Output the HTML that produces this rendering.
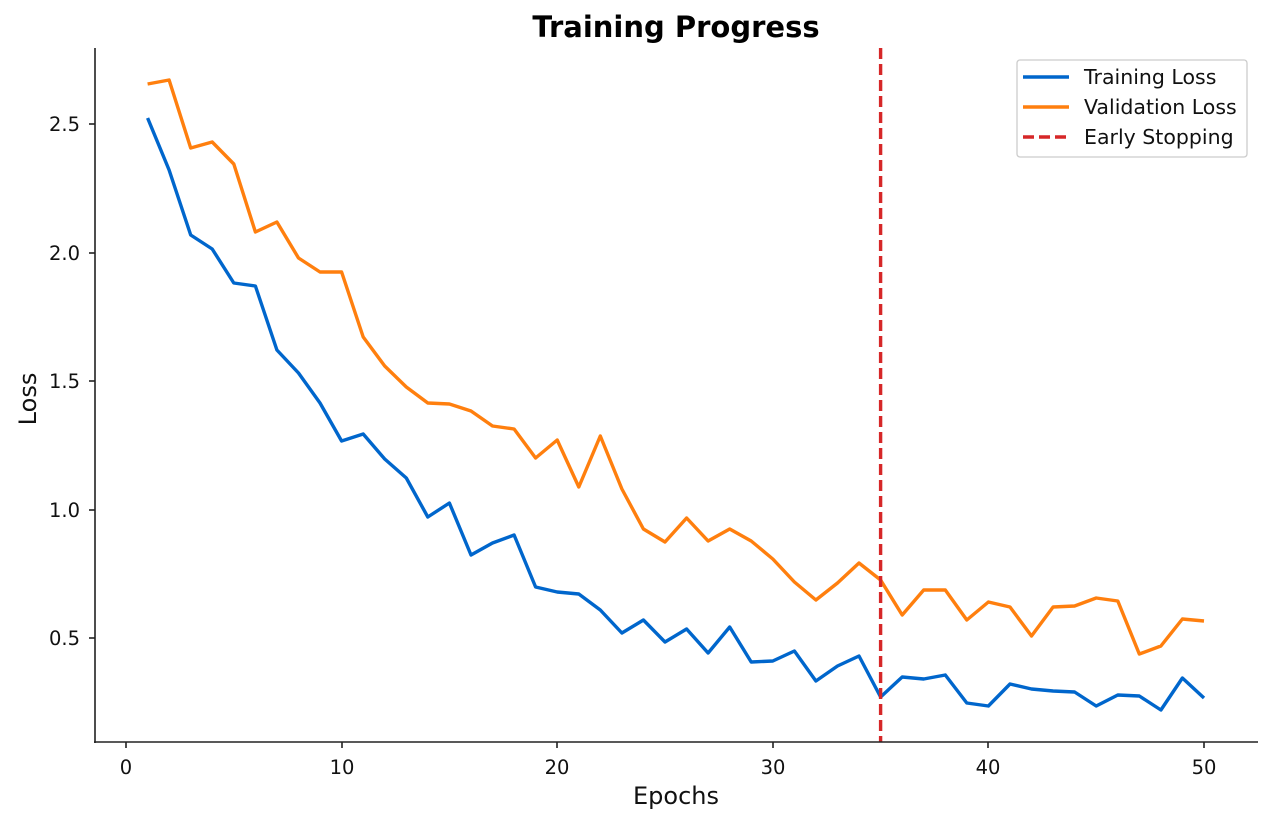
<!DOCTYPE html>
<html><head><meta charset="utf-8"><style>
html,body{margin:0;padding:0;background:#fff;}
svg{display:block;font-family:"DejaVu Sans","Liberation Sans",sans-serif;}
</style></head><body>
<svg width="1272" height="824" viewBox="0 0 1272 824" xmlns="http://www.w3.org/2000/svg">
<rect width="1272" height="824" fill="#fff"/>
<text x="676" y="37" text-anchor="middle" font-size="29" font-weight="bold" fill="#000">Training Progress</text>
<polyline fill="none" stroke="#ff7f0e" stroke-width="3.4" stroke-linejoin="round" points="147.6,84 169.1,80 190.7,148 212.2,142 233.8,164 255.4,232 276.9,222 298.5,258 320,272 341.6,272 363.2,337 384.7,366 406.3,387 427.8,403 449.4,404 471,411 492.5,426 514.1,429 535.6,458 557.2,440 578.8,487 600.3,436 621.9,489 643.4,529 665,542 686.6,518 708.1,541 729.7,529 751.2,541 772.8,559 794.4,582 815.9,600 837.5,583 859,563 880.6,580 902.2,615 923.7,590 945.3,590 966.8,620 988.4,602 1010,607 1031.5,636 1053.1,607 1074.6,606 1096.2,598 1117.8,601 1139.3,654 1160.9,646 1182.4,619 1204,621"/>
<polyline fill="none" stroke="#0066cc" stroke-width="3.4" stroke-linejoin="round" points="147.6,118 169.1,170 190.7,235 212.2,249 233.8,283 255.4,286 276.9,350 298.5,373 320,403 341.6,441 363.2,434 384.7,459 406.3,478 427.8,517 449.4,503 471,555 492.5,543 514.1,535 535.6,587 557.2,592 578.8,594 600.3,610 621.9,633 643.4,620 665,642 686.6,629 708.1,653 729.7,627 751.2,662 772.8,661 794.4,651 815.9,681 837.5,666 859,656 880.6,697 902.2,677 923.7,679 945.3,675 966.8,703 988.4,706 1010,684 1031.5,689 1053.1,691 1074.6,692 1096.2,706 1117.8,695 1139.3,696 1160.9,710 1182.4,678 1204,698"/>
<line x1="880.6" y1="48" x2="880.6" y2="742" stroke="#d62728" stroke-width="3.4" stroke-dasharray="11,5"/>
<line x1="95" y1="48" x2="95" y2="743" stroke="#222" stroke-width="1.6"/>
<line x1="94" y1="742" x2="1258" y2="742" stroke="#222" stroke-width="1.6"/>
<g stroke="#222" stroke-width="1.6">
<line x1="126" y1="742" x2="126" y2="748"/><line x1="342" y1="742" x2="342" y2="748"/><line x1="557" y1="742" x2="557" y2="748"/><line x1="773" y1="742" x2="773" y2="748"/><line x1="988" y1="742" x2="988" y2="748"/><line x1="1204" y1="742" x2="1204" y2="748"/>
<line x1="89" y1="124" x2="95" y2="124"/><line x1="89" y1="253" x2="95" y2="253"/><line x1="89" y1="381" x2="95" y2="381"/><line x1="89" y1="510" x2="95" y2="510"/><line x1="89" y1="638" x2="95" y2="638"/>
</g>
<g font-size="19.5" fill="#111" text-anchor="middle">
<text x="126" y="774">0</text><text x="342" y="774">10</text><text x="557" y="774">20</text><text x="773" y="774">30</text><text x="988" y="774">40</text><text x="1204" y="774">50</text>
</g>
<g font-size="19.5" fill="#111" text-anchor="end">
<text x="80" y="131">2.5</text><text x="80" y="260">2.0</text><text x="80" y="388">1.5</text><text x="80" y="517">1.0</text><text x="80" y="645">0.5</text>
</g>
<text x="676" y="804" text-anchor="middle" font-size="24" fill="#111">Epochs</text>
<text transform="translate(36,399) rotate(-90)" text-anchor="middle" font-size="24" fill="#111">Loss</text>
<rect x="1017" y="60" width="230" height="97" rx="3" fill="#fff" stroke="#ccc" stroke-width="1.3"/>
<line x1="1023" y1="77" x2="1069" y2="77" stroke="#0066cc" stroke-width="3.4"/>
<line x1="1023" y1="107" x2="1069" y2="107" stroke="#ff7f0e" stroke-width="3.4"/>
<line x1="1023" y1="137" x2="1069" y2="137" stroke="#d62728" stroke-width="3.4" stroke-dasharray="11,5"/>
<g font-size="20.5" fill="#111">
<text x="1084" y="84">Training Loss</text>
<text x="1084" y="114">Validation Loss</text>
<text x="1084" y="144">Early Stopping</text>
</g>
</svg>
</body></html>
